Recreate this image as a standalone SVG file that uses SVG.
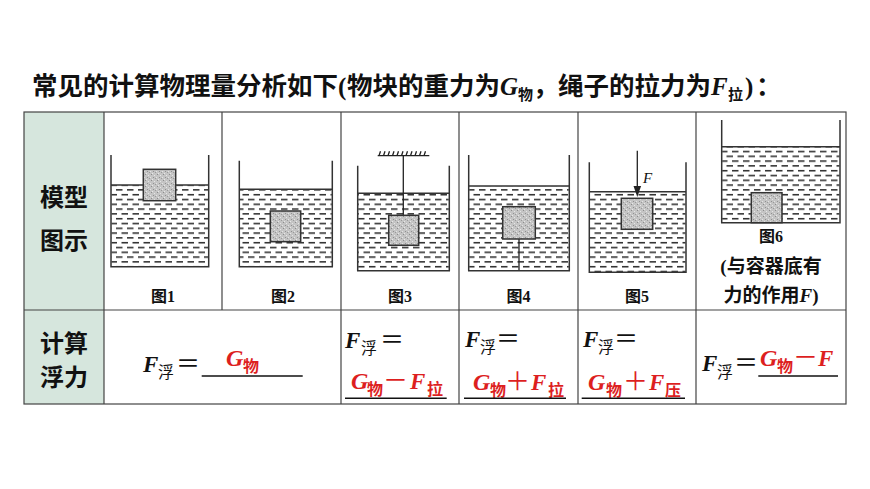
<svg xmlns="http://www.w3.org/2000/svg" width="870" height="489" viewBox="0 0 870 489">
<defs>
<pattern id="water" patternUnits="userSpaceOnUse" width="11" height="9.6">
<rect width="11" height="9.6" fill="#fff"/>
<rect x="0.5" y="2" width="6.5" height="1.4" fill="#1a1a1a"/>
<rect x="6" y="6.8" width="5" height="1.4" fill="#1a1a1a"/>
<rect x="0" y="6.8" width="1.5" height="1.4" fill="#1a1a1a"/>
</pattern>
<pattern id="sand" patternUnits="userSpaceOnUse" width="6" height="6">
<rect width="6" height="6" fill="#c4c4c4"/>
<rect x="1" y="0" width="1" height="1" fill="#8c8c8c"/>
<rect x="4" y="1" width="1" height="1" fill="#e6e6e6"/>
<rect x="0" y="3" width="1" height="1" fill="#e4e4e4"/>
<rect x="3" y="3" width="1" height="1" fill="#909090"/>
<rect x="5" y="4" width="1" height="1" fill="#9a9a9a"/>
<rect x="2" y="5" width="1" height="1" fill="#e8e8e8"/>
</pattern>
</defs>
<style>
.cjk{font-family:"Noto Sans CJK SC","Noto Sans",sans-serif;}
.title{font-family:"Noto Sans CJK SC",sans-serif;font-weight:bold;font-size:25.5px;fill:#111;}
.lat{font-family:"Liberation Serif",serif;font-weight:bold;font-style:italic;fill:#111;}
.par{font-family:"Liberation Serif",serif;font-weight:bold;font-size:25px;fill:#111;}
.hdr{font-family:"Noto Sans CJK SC",sans-serif;font-weight:bold;font-size:24px;fill:#111;text-anchor:middle;}
.lbl{font-family:"Liberation Serif","Noto Sans CJK SC",serif;font-weight:bold;font-size:16px;fill:#111;text-anchor:middle;}
.note{font-family:"Liberation Serif","Noto Sans CJK SC",serif;font-weight:bold;font-size:19px;fill:#111;text-anchor:middle;}
.wall{fill:none;stroke:#333;stroke-width:1.5;}
.wat{fill:url(#water);}
.surf{stroke:#333;stroke-width:1.5;}
.blk{fill:url(#sand);stroke:#333;stroke-width:1.5;}
.str{stroke:#222;stroke-width:1.3;}
.grid{stroke:#444;stroke-width:1.2;fill:none;}
.fF{font-family:"Liberation Serif",serif;font-weight:bold;font-style:italic;font-size:23px;}
.fG{font-family:"Liberation Serif",serif;font-weight:bold;font-style:italic;font-size:24px;}
.sub{font-family:"Noto Sans CJK SC",sans-serif;font-size:16px;}
.eq{font-family:"Noto Sans CJK SC",sans-serif;font-size:24px;}
.blk-t{fill:#111;}
.red{fill:#dd1f1f;}
.subr{font-family:"Noto Sans CJK SC",sans-serif;font-size:16px;font-weight:bold;}
.eqr{font-family:"Noto Sans CJK SC",sans-serif;font-size:25px;}
.ul{stroke:#111;stroke-width:1.5;}
.fl{font-family:"Liberation Serif",serif;font-style:italic;font-size:15px;fill:#111;}
</style>

<g id="title">
<text class="title" x="32" y="95">常见的计算物理量分析如下</text>
<text class="par" x="338" y="95">(</text>
<text class="title" x="347" y="95">物块的重力为</text>
<text class="lat" x="500" y="95" font-size="25">G</text>
<text class="cjk" x="518" y="100" font-size="15" font-weight="bold" fill="#111">物</text>
<text class="title" x="533" y="95">，</text>
<text class="title" x="558" y="95">绳子的拉力为</text>
<text class="lat" x="711" y="95" font-size="25">F</text>
<text class="cjk" x="728" y="100" font-size="15" font-weight="bold" fill="#111">拉</text>
<text class="par" x="745" y="95">)</text>
<text class="title" x="756" y="95">：</text>
</g>

<g id="table">
<rect x="24" y="112" width="80" height="292" fill="#d6e6dd"/>
<rect x="24" y="112" width="822" height="292" class="grid" stroke-width="1.6"/>
<line x1="24" y1="310" x2="846" y2="310" class="grid"/>
<line x1="104" y1="112" x2="104" y2="404" class="grid"/>
<line x1="222" y1="112" x2="222" y2="310" class="grid"/>
<line x1="341" y1="112" x2="341" y2="404" class="grid"/>
<line x1="459" y1="112" x2="459" y2="404" class="grid"/>
<line x1="578" y1="112" x2="578" y2="404" class="grid"/>
<line x1="696" y1="112" x2="696" y2="404" class="grid"/>
</g>

<g id="header-model">
<text class="hdr" x="64" y="206">模型</text>
<text class="hdr" x="64" y="249">图示</text>
</g>
<g id="header-calc">
<text class="hdr" x="64" y="352">计算</text>
<text class="hdr" x="64" y="386">浮力</text>
</g>

<g id="fig1">
<rect class="wat" x="111.5" y="185" width="96.5" height="81.7"/>
<line class="surf" x1="111" y1="185" x2="208.7" y2="185"/>
<rect class="blk" x="143.3" y="169.3" width="32.4" height="31.4"/>
<path class="wall" d="M111 155V266.7H208.7V155"/>
<text class="lbl" x="163" y="302">图1</text>
</g>

<g id="fig2">
<rect class="wat" x="239.8" y="189.3" width="92" height="77.4"/>
<line class="surf" x1="239.3" y1="189.3" x2="332.3" y2="189.3"/>
<rect class="blk" x="270.3" y="211" width="30.4" height="30.7"/>
<path class="wall" d="M239.3 160.7V266.7H332.3V160.7"/>
<text class="lbl" x="283" y="302">图2</text>
</g>

<g id="fig3">
<rect class="wat" x="358.2" y="193.3" width="90.6" height="77.4"/>
<line class="surf" x1="357.7" y1="193.3" x2="449.3" y2="193.3"/>
<line class="str" x1="377.7" y1="155.7" x2="429.3" y2="155.7"/>
<path class="str" stroke-width="1" d="M379 155.7l1.5-4.5M383.5 155.7l1.5-4.5M388 155.7l1.5-4.5M392.5 155.7l1.5-4.5M397 155.7l1.5-4.5M401.5 155.7l1.5-4.5M406 155.7l1.5-4.5M410.5 155.7l1.5-4.5M415 155.7l1.5-4.5M419.5 155.7l1.5-4.5M424 155.7l1.5-4.5"/>
<line class="str" x1="403.3" y1="155.7" x2="403.3" y2="215.3"/>
<rect class="blk" x="388.7" y="215.3" width="30" height="30"/>
<path class="wall" d="M357.7 165.7V270.7H449.3V165.7"/>
<text class="lbl" x="400" y="302">图3</text>
</g>

<g id="fig4">
<rect class="wat" x="469.2" y="186" width="99.6" height="84.7"/>
<line class="surf" x1="468.7" y1="186" x2="569.3" y2="186"/>
<line class="str" x1="519" y1="239" x2="519" y2="270.7"/>
<rect class="blk" x="502.7" y="206.7" width="32.6" height="32.3"/>
<path class="wall" d="M468.7 155V270.7H569.3V155"/>
<text class="lbl" x="518.5" y="302">图4</text>
</g>

<g id="fig5">
<rect class="wat" x="589.8" y="191.7" width="95.7" height="80.6"/>
<line class="surf" x1="589.3" y1="191.7" x2="686" y2="191.7"/>
<rect class="blk" x="621.3" y="198.3" width="31.4" height="31"/>
<line class="str" x1="637.3" y1="150.7" x2="637.3" y2="188"/>
<polygon points="633.5,186 641.1,186 637.3,197" fill="#222"/>
<text class="fl" x="643" y="183">F</text>
<path class="wall" d="M589.3 162.3V272.3H686V162.3"/>
<text class="lbl" x="637" y="302">图5</text>
</g>

<g id="fig6">
<rect class="wat" x="722.2" y="146.7" width="117.3" height="76"/>
<line class="surf" x1="721.7" y1="146.7" x2="840" y2="146.7"/>
<rect class="blk" x="751.3" y="192.7" width="30.7" height="30"/>
<path class="wall" d="M721.7 120V222.7H840V120"/>
<text class="lbl" x="771" y="242">图6</text>
<text class="note" x="771" y="273">(与容器底有</text>
<text class="note" x="771" y="302">力的作用<tspan font-style="italic">F</tspan>)</text>
</g>

<g id="calc1">
<text class="fF blk-t" x="143" y="371.5">F</text>
<text class="sub blk-t" x="158" y="378">浮</text>
<text class="eq blk-t" x="176" y="371.5">＝</text>
<line class="ul" x1="201.7" y1="376" x2="302.7" y2="376"/>
<text class="fG red" x="226" y="366">G</text>
<text class="subr red" x="243" y="372">物</text>
</g>

<g id="calc3">
<text class="fF blk-t" x="345" y="348">F</text>
<text class="sub blk-t" x="361" y="354">浮</text>
<text class="eq blk-t" x="380" y="348">＝</text>
<text class="fG red" x="351" y="389">G</text>
<text class="subr red" x="367" y="395">物</text>
<text class="eqr red" x="383" y="389">－</text>
<text class="fF red" x="410" y="389">F</text>
<text class="subr red" x="427" y="395">拉</text>
<line class="ul" x1="345" y1="398.3" x2="446.7" y2="398.3"/>
</g>

<g id="calc4">
<text class="fF blk-t" x="465" y="347">F</text>
<text class="sub blk-t" x="480" y="353">浮</text>
<text class="eq blk-t" x="496" y="347">＝</text>
<text class="fG red" x="473" y="390">G</text>
<text class="subr red" x="490" y="396">物</text>
<text class="eqr red" x="505" y="390">＋</text>
<text class="fF red" x="531" y="390">F</text>
<text class="subr red" x="548" y="396">拉</text>
<line class="ul" x1="464" y1="398.3" x2="566" y2="398.3"/>
</g>

<g id="calc5">
<text class="fF blk-t" x="583" y="347">F</text>
<text class="sub blk-t" x="598" y="353">浮</text>
<text class="eq blk-t" x="614" y="347">＝</text>
<text class="fG red" x="588" y="390">G</text>
<text class="subr red" x="606" y="396">物</text>
<text class="eqr red" x="623" y="390">＋</text>
<text class="fF red" x="649" y="390">F</text>
<text class="subr red" x="665" y="396">压</text>
<line class="ul" x1="581.7" y1="398.3" x2="685" y2="398.3"/>
</g>

<g id="calc6">
<text class="fF blk-t" x="702" y="371">F</text>
<text class="sub blk-t" x="717" y="378">浮</text>
<text class="eq blk-t" x="734" y="371">＝</text>
<text class="fG red" x="760" y="366">G</text>
<text class="subr red" x="777" y="372">物</text>
<text class="eqr red" x="793" y="366">－</text>
<text class="fF red" x="818" y="366">F</text>
<line class="ul" x1="758.3" y1="376" x2="838" y2="376"/>
</g>
</svg>
